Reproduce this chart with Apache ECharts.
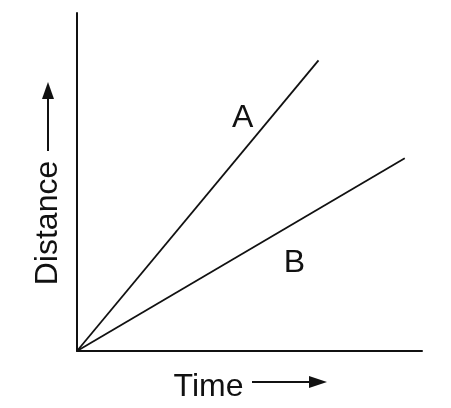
<!DOCTYPE html>
<html>
<head>
<meta charset="utf-8">
<script src="https://cdn.jsdelivr.net/npm/echarts@6/dist/echarts.min.js"></script>
<style>
  html, body { margin: 0; padding: 0; background: #fff; }
  #main { width: 451px; height: 408px; }
</style>
</head>
<body>
<div id="main"></div>
<script>
// line end points (origin is 0,0)
var timeA = [0, 7.0];
var distA = [0, 8.6];
var timeB = [0, 9.5];
var distB = [0, 5.7];
// line labels and where they sit
var lineNames = ['A', 'B'];
var labelTime = [4.8, 6.3];
var labelDist = [6.9, 2.6];

var chart = echarts.init(document.getElementById('main'));

function pairs(xs, ys) {
    var out = [];
    for (var i = 0; i < xs.length; i++) {
        out.push([xs[i], ys[i]]);
    }
    return out;
}

var ink = '#111';
var font = '"Liberation Sans", Arial, sans-serif';

var option = {
    backgroundColor: '#fff',
    animation: false,
    grid: { left: 77, right: 29, top: 13, bottom: 51 },
    xAxis: {
        type: 'value', min: 0, max: 10,
        axisLine: { show: true, lineStyle: { color: ink, width: 2 } },
        axisTick: { show: false }, axisLabel: { show: false }, splitLine: { show: false },
        name: '{t|Time}{s|}',
        nameLocation: 'middle',
        nameGap: 20,
        nameTextStyle: {
            rich: {
                t: { fontSize: 32, fontFamily: font, color: ink },
                s: { width: 82 }
            }
        }
    },
    yAxis: {
        type: 'value', min: 0, max: 10,
        axisLine: { show: true, lineStyle: { color: ink, width: 2 } },
        axisTick: { show: false }, axisLabel: { show: false }, splitLine: { show: false },
        name: '{t|Distance}{s|}',
        nameLocation: 'middle',
        nameRotate: 90,
        nameGap: 13,
        nameTextStyle: {
            rich: {
                t: { fontSize: 32, fontFamily: font, color: ink },
                s: { width: 82 }
            }
        }
    },
    series: [
        {
            name: lineNames[0], type: 'line', data: pairs(timeA, distA),
            symbol: 'none', lineStyle: { color: ink, width: 1.8 },
            markPoint: {
                symbol: 'circle', symbolSize: 0,
                data: [{ coord: [labelTime[0], labelDist[0]], value: lineNames[0] }],
                label: { show: true, formatter: '{c}', fontSize: 32, fontFamily: font, color: ink }
            }
        },
        {
            name: lineNames[1], type: 'line', data: pairs(timeB, distB),
            symbol: 'none', lineStyle: { color: ink, width: 1.8 },
            markPoint: {
                symbol: 'circle', symbolSize: 0,
                data: [{ coord: [labelTime[1], labelDist[1]], value: lineNames[1] }],
                label: { show: true, formatter: '{c}', fontSize: 32, fontFamily: font, color: ink }
            }
        }
    ],
    graphic: [
        // arrow after "Time"
        { type: 'line', shape: { x1: 252, y1: 382, x2: 312, y2: 382 }, style: { stroke: ink, lineWidth: 2 } },
        { type: 'polygon', shape: { points: [[309, 376], [327, 382], [309, 388]] }, style: { fill: ink } },
        // arrow after "Distance"
        { type: 'line', shape: { x1: 48, y1: 151, x2: 48, y2: 96 }, style: { stroke: ink, lineWidth: 2 } },
        { type: 'polygon', shape: { points: [[42, 99], [48, 82], [54, 99]] }, style: { fill: ink } }
    ]
};

chart.setOption(option);
</script>
</body>
</html>
